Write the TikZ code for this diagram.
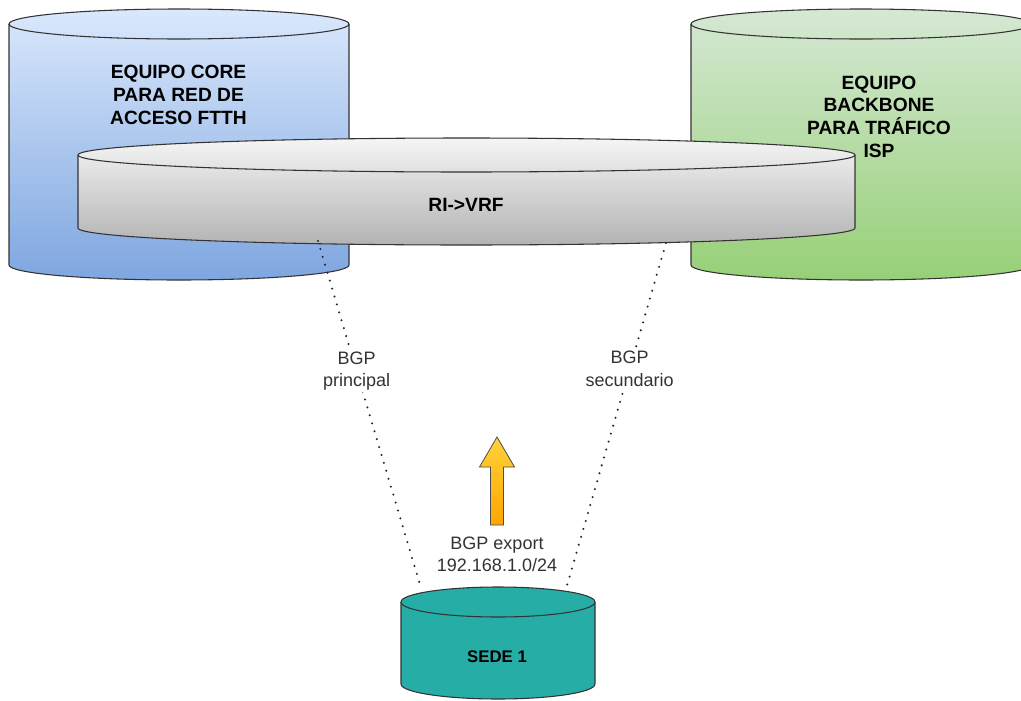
\documentclass[tikz,border=0pt]{standalone}
\usepackage{fontspec}
\setmainfont{Liberation Sans}
\definecolor{blueT}{HTML}{DAE8FC}
\definecolor{blueB}{HTML}{7EA6E0}
\definecolor{greenT}{HTML}{D5E8D4}
\definecolor{greenB}{HTML}{97D077}
\definecolor{grayT}{HTML}{F5F5F5}
\definecolor{grayB}{HTML}{B3B3B3}
\definecolor{teal1}{HTML}{26ADA6}
\definecolor{arrT}{HTML}{FFD23C}
\definecolor{arrB}{HTML}{FFA500}
\definecolor{edge}{HTML}{333333}
\newcommand{\drawcyl}[6]{%
  \path[#6] (#1,#3) -- (#1,#4)
    arc[start angle=180,end angle=0,x radius={(#2-#1)/2},y radius=#5]
    -- (#2,#3)
    arc[start angle=0,end angle=-180,x radius={(#2-#1)/2},y radius=#5] -- cycle;
  \draw[#6,fill=none,shade=false] (#1,#3)
    arc[start angle=180,end angle=0,x radius={(#2-#1)/2},y radius=#5];
}
\tikzset{
  cylblue/.style={draw=edge,line width=0.8pt,top color=blueT,bottom color=blueB},
  cylgreen/.style={draw=edge,line width=0.8pt,top color=greenT,bottom color=greenB},
  cylgray/.style={draw=edge,line width=0.8pt,top color=grayT,bottom color=grayB},
  cylteal/.style={draw=edge,line width=0.8pt,fill=teal1},
  boldlbl/.style={font=\fontsize{14.4}{17}\selectfont\bfseries,align=center,text=black},
  lbl/.style={font=\fontsize{13.5}{16.8}\selectfont,align=center,text=black!80,fill=white,inner sep=1.5pt},
  bgpline/.style={line width=1.7pt,line cap=round,dash pattern=on 0pt off 6.2pt,draw=black!85},
  bigarrow/.style={draw=black!70,line width=0.6pt,top color=arrT,bottom color=arrB}
}
\begin{document}
\begin{tikzpicture}[x=0.75pt,y=-0.75pt]
\useasboundingbox (0,0) rectangle (1021,700);
\clip (0,0) rectangle (1021,700);
\fill[white] (0,0) rectangle (1021,700);

% large cylinders
\drawcyl{9}{349}{24}{265}{15}{cylblue}
\drawcyl{691}{1031}{24}{265}{15}{cylgreen}
\node[boldlbl] (core) at (178.5,95) {EQUIPO CORE\\PARA RED DE\\ACCESO FTTH};
\node[boldlbl] (bb) at (879,116.5) {EQUIPO\\BACKBONE\\PARA TRÁFICO\\ISP};

% VRF cylinder
\drawcyl{78}{855}{155}{228}{17}{cylgray}
\node[boldlbl] (vrf) at (466,205) {RI->VRF};

% connector ends
\coordinate (l1) at (318,241);
\coordinate (l2) at (421,588);
\coordinate (r1) at (666,243);
\coordinate (r2) at (566,589);

\draw[bgpline] (l1) -- node[lbl,pos=0.375] (lp) {BGP\\principal} (l2);
\draw[bgpline] (r1) -- node[lbl,pos=0.364] (rs) {BGP\\secundario} (r2);

% sede
\drawcyl{401}{595}{602}{684}{15}{cylteal}
\node[boldlbl,font=\fontsize{12.6}{15}\selectfont\bfseries] (sede) at (497,657) {SEDE 1};

% export arrow
\path[bigarrow] (490.5,525) -- (490.5,467) -- (479.5,467) -- (497,437)
  -- (514.5,467) -- (503.5,467) -- (503.5,525) -- cycle;
\node[lbl,fill=none] (exp) at (497,554) {BGP export\\192.168.1.0/24};
\end{tikzpicture}
\end{document}
